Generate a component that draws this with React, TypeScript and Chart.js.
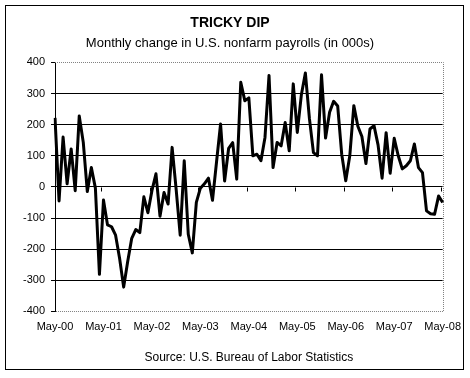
import React, { useEffect, useRef } from "react";
import { Chart, registerables } from "chart.js";

Chart.register(...registerables);

const TITLE = "TRICKY DIP";
const SUBTITLE = "Monthly change in U.S. nonfarm payrolls (in 000s)";
const SOURCE = "Source: U.S. Bureau of Labor Statistics";

const MONTH_NAMES = ["May", "Jun", "Jul", "Aug", "Sep", "Oct", "Nov", "Dec", "Jan", "Feb", "Mar", "Apr"];
const TICK_LABELS = ["May-00", "May-01", "May-02", "May-03", "May-04", "May-05", "May-06", "May-07", "May-08"];

// Monthly change in nonfarm payrolls (thousands), May 2000 – May 2008
const PAYROLL_CHANGE = [
  222, -45, 160, 10, 122, -12, 228, 143, -15, 62, -4, -281,
  -42, -122, -128, -155, -230, -322, -240, -165, -137, -147, -32, -83,
  -12, 42, -94, -18, -55, 127, -8, -155, 84, -152, -212, -50,
  -4, 10, 28, -43, 80, 202, 19, 124, 142, 25, 336, 277,
  286, 100, 105, 84, 159, 358, 62, 143, 132, 207, 116, 331,
  175, 295, 366, 220, 110, 100, 360, 157, 240, 275, 260, 105,
  20, 100, 261, 195, 162, 75, 186, 197, 135, 28, 174, 44,
  156, 100, 58, 68, 84, 138, 62, 46, -77, -86, -88, -29,
  -50,
];

const CATEGORIES: string[] = PAYROLL_CHANGE.map((_, i) => {
  const yr = 2000 + Math.floor((i + 4) / 12);
  return MONTH_NAMES[i % 12] + "-" + String(yr % 100).padStart(2, "0");
});

const FONT = "'Liberation Sans', Arial, sans-serif";

const framePlugin = {
  id: "frame",
  beforeDraw(chart: any) {
    const { ctx, width, height } = chart;
    ctx.save();
    ctx.fillStyle = "#fff";
    ctx.fillRect(0, 0, width, height);
    ctx.strokeStyle = "#000";
    ctx.lineWidth = 1;
    ctx.strokeRect(5.5, 5.5, 458, 364);
    ctx.restore();
  },
  beforeDatasetsDraw(chart: any) {
    const { ctx, chartArea } = chart;
    const { left, right, top, bottom } = chartArea;
    ctx.save();
    ctx.strokeStyle = "#808080";
    ctx.lineWidth = 1;
    ctx.setLineDash([1, 1]);
    ctx.beginPath();
    ctx.moveTo(left, Math.round(top) + 0.5);
    ctx.lineTo(Math.round(right) + 0.5, Math.round(top) + 0.5);
    ctx.lineTo(Math.round(right) + 0.5, Math.round(bottom) + 0.5);
    ctx.lineTo(left, Math.round(bottom) + 0.5);
    ctx.stroke();
    ctx.setLineDash([]);
    // year tick marks on the zero line
    const xs = chart.scales.x;
    const ys = chart.scales.y;
    const y0 = Math.round(ys.getPixelForValue(0)) + 0.5;
    ctx.strokeStyle = "#000";
    ctx.beginPath();
    for (let i = 12; i < CATEGORIES.length; i += 12) {
      const x = Math.round((xs.getPixelForValue(i) + xs.getPixelForValue(i - 1)) / 2) + 0.5;
      ctx.moveTo(x, y0);
      ctx.lineTo(x, y0 + 4);
    }
    ctx.stroke();
    ctx.restore();
  },
};

export default function App() {
  const ref = useRef<HTMLCanvasElement | null>(null);
  useEffect(() => {
    if (!ref.current) return;
    const chart = new Chart(ref.current, {
      type: "line",
      data: {
        labels: CATEGORIES,
        datasets: [
          {
            data: PAYROLL_CHANGE,
            borderColor: "#000",
            borderWidth: 3,
            pointRadius: 0,
            tension: 0,
            fill: false,
            borderJoinStyle: "round",
          },
        ],
      },
      options: {
        responsive: false,
        animation: false,
        devicePixelRatio: 1,
        layout: { padding: { top: 15, left: 17, right: 27, bottom: 13 } },
        plugins: {
          legend: { display: false },
          tooltip: { enabled: false },
          title: {
            display: true,
            text: TITLE,
            color: "#000",
            font: { family: FONT, size: 14, weight: "bold" },
            padding: { top: 0, bottom: 4 },
          },
          subtitle: {
            display: true,
            text: SUBTITLE,
            color: "#000",
            font: { family: FONT, size: 13 },
            padding: { top: 0, bottom: 11 },
          },
        },
        scales: {
          x: {
            type: "category",
            offset: false,
            grid: { display: false, drawTicks: false },
            border: { display: false },
            ticks: {
              autoSkip: false,
              maxRotation: 0,
              minRotation: 0,
              color: "#000",
              font: { family: FONT, size: 11 },
              padding: 9,
              callback: (_v: any, i: number) => (i % 12 === 0 ? TICK_LABELS[i / 12] : ""),
            },
            title: {
              display: true,
              text: SOURCE,
              color: "#000",
              font: { family: FONT, size: 12 },
              padding: { top: 8, bottom: 0 },
            },
          },
          y: {
            min: -400,
            max: 400,
            grid: {
              color: (c: any) => (c.tick && Math.abs(c.tick.value) === 400 ? "rgba(0,0,0,0)" : "#000"),
              tickColor: "#000",
              tickLength: 4,
              lineWidth: 1,
            },
            border: { display: true, color: "#000", width: 1 },
            ticks: {
              stepSize: 100,
              color: "#000",
              font: { family: FONT, size: 11 },
              padding: 6,
            },
          },
        },
      },
      plugins: [framePlugin],
    });
    return () => chart.destroy();
  }, []);
  return (
    <div style={{ position: "fixed", left: 0, top: 0, width: 470, height: 378 }}>
      <canvas ref={ref} width={470} height={378} />
    </div>
  );
}
